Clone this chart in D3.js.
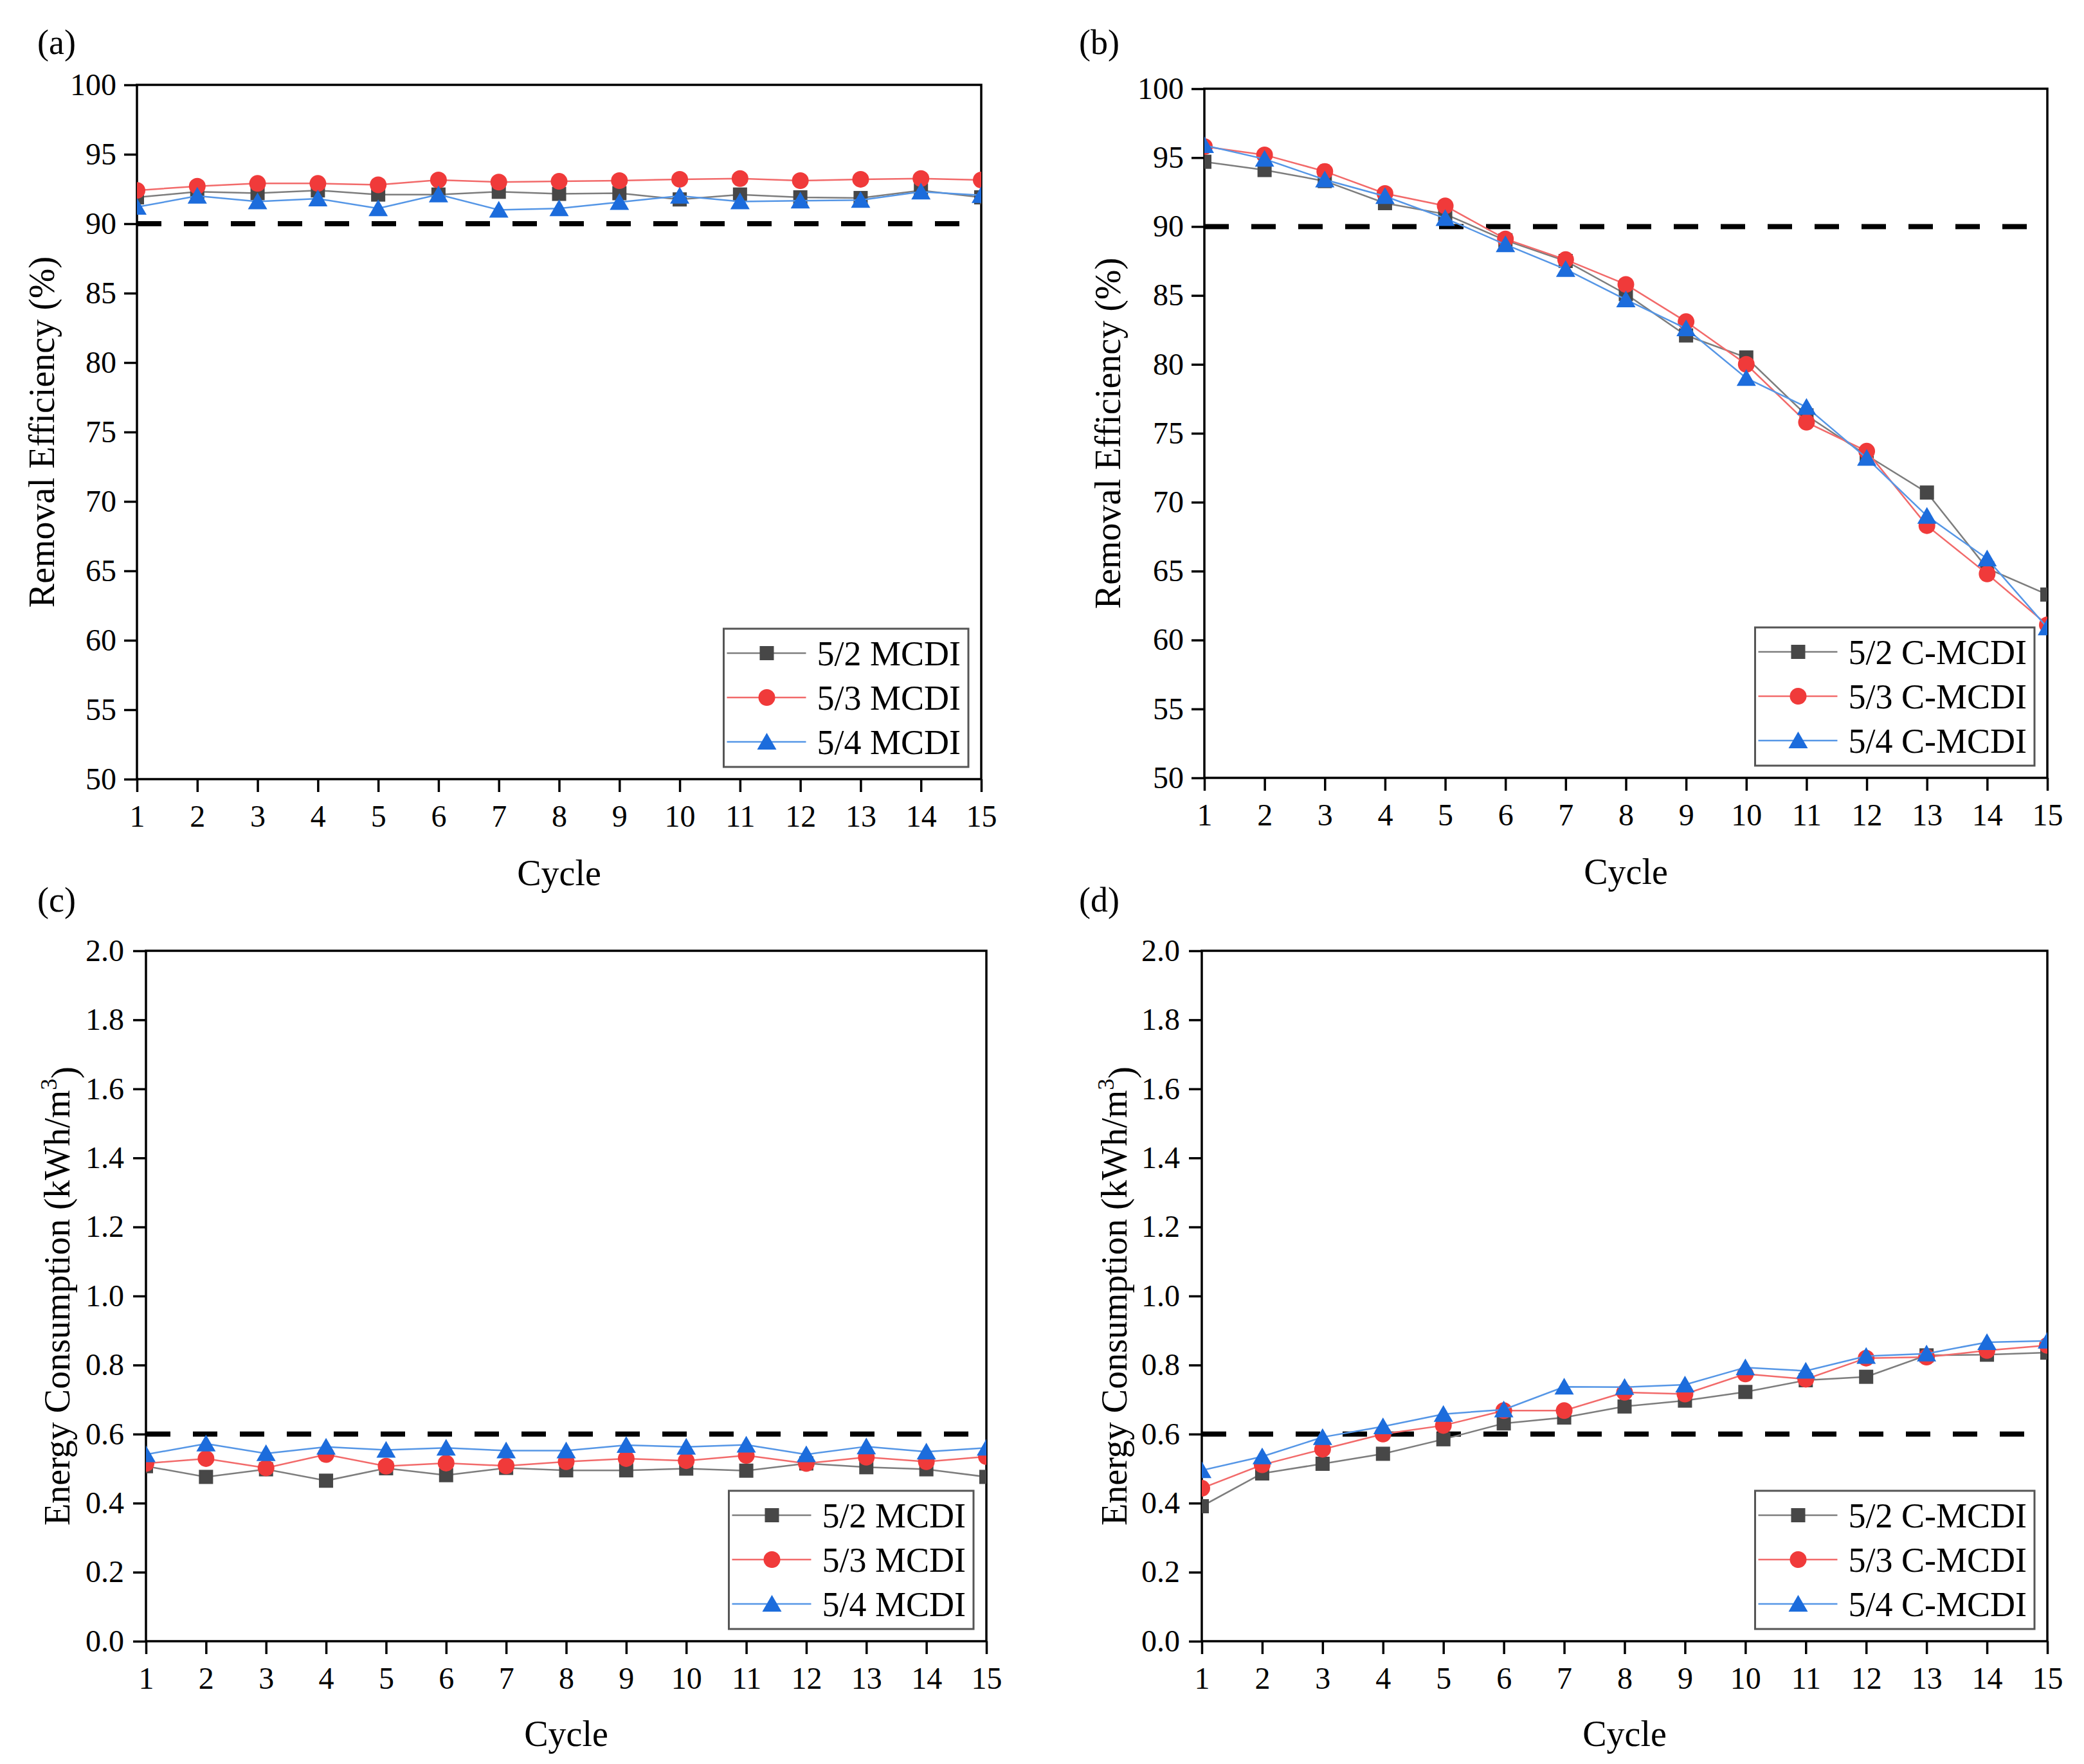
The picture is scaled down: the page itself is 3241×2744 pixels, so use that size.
<!DOCTYPE html>
<html>
<head>
<meta charset="utf-8">
<script src="https://cdn.jsdelivr.net/npm/d3@7"></script>
<style>
  body { margin: 0; background: #fff; }
  svg { display: block; font-family: "Liberation Serif", "Times New Roman", serif; }
</style>
</head>
<body>
<div id="chart"></div>
<script>
// cycle numbers on the x axis
const cycles = [1, 2, 3, 4, 5, 6, 7, 8, 9, 10, 11, 12, 13, 14, 15];

// (a) removal efficiency, MCDI (%)
const effMCDI52 = [91.9, 92.3, 92.2, 92.4, 92.1, 92.1, 92.3, 92.15, 92.2, 91.75, 92.1, 91.9, 91.85, 92.4, 91.9];
const effMCDI53 = [92.4, 92.7, 92.9, 92.9, 92.8, 93.15, 93.0, 93.05, 93.1, 93.2, 93.25, 93.1, 93.2, 93.25, 93.15];
const effMCDI54 = [91.2, 92.0, 91.6, 91.8, 91.1, 92.1, 91.0, 91.1, 91.55, 92.0, 91.6, 91.65, 91.7, 92.3, 92.05];

// (b) removal efficiency, C-MCDI (%)
const effCMCDI52 = [94.7, 94.1, 93.3, 91.7, 90.9, 89.0, 87.5, 85.1, 82.1, 80.5, 76.3, 73.4, 70.7, 65.2, 63.3];
const effCMCDI53 = [95.8, 95.2, 94.0, 92.4, 91.5, 89.1, 87.6, 85.8, 83.1, 80.0, 75.8, 73.7, 68.3, 64.8, 61.1];
const effCMCDI54 = [95.9, 94.9, 93.4, 92.2, 90.6, 88.7, 86.9, 84.7, 82.6, 79.0, 76.9, 73.2, 69.0, 65.9, 60.9];

// (c) energy consumption, MCDI (kWh/m3)
const energyMCDI52 = [0.507, 0.476, 0.498, 0.465, 0.501, 0.481, 0.502, 0.495, 0.495, 0.500, 0.494, 0.515, 0.504, 0.498, 0.476];
const energyMCDI53 = [0.515, 0.529, 0.502, 0.541, 0.507, 0.516, 0.508, 0.520, 0.529, 0.523, 0.538, 0.515, 0.533, 0.520, 0.535];
const energyMCDI54 = [0.541, 0.572, 0.544, 0.563, 0.554, 0.560, 0.552, 0.552, 0.568, 0.563, 0.569, 0.541, 0.564, 0.549, 0.560];

// (d) energy consumption, C-MCDI (kWh/m3)
const energyCMCDI52 = [0.391, 0.486, 0.514, 0.543, 0.585, 0.631, 0.648, 0.680, 0.697, 0.722, 0.756, 0.766, 0.828, 0.830, 0.836];
const energyCMCDI53 = [0.443, 0.511, 0.556, 0.600, 0.625, 0.668, 0.668, 0.721, 0.716, 0.774, 0.759, 0.820, 0.823, 0.842, 0.857];
const energyCMCDI54 = [0.495, 0.535, 0.591, 0.622, 0.658, 0.671, 0.737, 0.736, 0.743, 0.793, 0.783, 0.826, 0.833, 0.866, 0.870];

// axis ticks and threshold lines
const effTicks = [50, 55, 60, 65, 70, 75, 80, 85, 90, 95, 100];
const energyTicks = [0.0, 0.2, 0.4, 0.6, 0.8, 1.0, 1.2, 1.4, 1.6, 1.8, 2.0];
const effThreshold = 90;
const energyThreshold = 0.6;

const mcdiNames = ['5/2 MCDI', '5/3 MCDI', '5/4 MCDI'];
const cmcdiNames = ['5/2 C-MCDI', '5/3 C-MCDI', '5/4 C-MCDI'];

const W = 3241, H = 2744;

// look of the three series: square / circle / triangle
const styles = [
    { shape: 'square', fill: '#474747', line: '#7d7d7d' },
    { shape: 'circle', fill: '#f03a3a', line: '#f26a6a' },
    { shape: 'triangle', fill: '#1c6cdc', line: '#5596e6' }
];

const panels = [
    { tag: '(a)', left: 213, right: 1526, top: 132, bottom: 1212, tagX: 58, tagY: 84,
      yTitleX: 84, xTitleY: 1377, kind: 'eff', series: [effMCDI52, effMCDI53, effMCDI54], names: mcdiNames },
    { tag: '(b)', left: 1873, right: 3184, top: 138, bottom: 1210, tagX: 1678, tagY: 84,
      yTitleX: 1742, xTitleY: 1375, kind: 'eff', series: [effCMCDI52, effCMCDI53, effCMCDI54], names: cmcdiNames },
    { tag: '(c)', left: 227, right: 1534, top: 1479, bottom: 2553, tagX: 58, tagY: 1418,
      yTitleX: 108, xTitleY: 2716, kind: 'energy', series: [energyMCDI52, energyMCDI53, energyMCDI54], names: mcdiNames },
    { tag: '(d)', left: 1869, right: 3184, top: 1479, bottom: 2553, tagX: 1678, tagY: 1418,
      yTitleX: 1752, xTitleY: 2716, kind: 'energy', series: [energyCMCDI52, energyCMCDI53, energyCMCDI54], names: cmcdiNames }
];

const svg = d3.select('#chart').append('svg')
    .attr('width', W)
    .attr('height', H)
    .attr('viewBox', [0, 0, W, H]);

svg.append('rect').attr('width', W).attr('height', H).attr('fill', '#fff');

function drawMarker(sel, shape, fill) {
    if (shape === 'square') {
        sel.append('rect').attr('x', -11).attr('y', -11).attr('width', 22).attr('height', 22).attr('fill', fill);
    } else if (shape === 'circle') {
        sel.append('circle').attr('r', 13).attr('fill', fill);
    } else {
        sel.append('path').attr('d', 'M0,-14L15,12L-15,12Z').attr('fill', fill);
    }
}

panels.forEach((p, pi) => {
    const isEff = p.kind === 'eff';
    const x = d3.scaleLinear().domain([1, 15]).range([p.left, p.right]);
    const y = isEff
        ? d3.scaleLinear().domain([50, 100]).range([p.bottom, p.top])
        : d3.scaleLinear().domain([0, 2]).range([p.bottom, p.top]);

    const g = svg.append('g');

    const clipId = `clip-${pi}`;
    svg.append('clipPath').attr('id', clipId)
        .append('rect')
        .attr('x', p.left).attr('y', p.top)
        .attr('width', p.right - p.left).attr('height', p.bottom - p.top);

    // axes
    const xAxis = d3.axisBottom(x).tickValues(cycles).tickFormat(d3.format('d'))
        .tickSize(20).tickSizeOuter(0).tickPadding(20);
    const yAxis = d3.axisLeft(y).tickValues(isEff ? effTicks : energyTicks)
        .tickFormat(isEff ? d3.format('d') : d3.format('.1f'))
        .tickSize(20).tickSizeOuter(0).tickPadding(isEff ? 12 : 14);

    const gx = g.append('g').attr('transform', `translate(0,${p.bottom})`).call(xAxis);
    const gy = g.append('g').attr('transform', `translate(${p.left},0)`).call(yAxis);
    [gx, gy].forEach(a => {
        a.select('.domain').remove();
        a.selectAll('.tick line').attr('stroke', '#000').attr('stroke-width', 3.5);
        a.selectAll('.tick text')
            .attr('fill', '#000')
            .style('font-size', '48px')
            .style('font-family', '"Liberation Serif", "Times New Roman", serif');
    });

    // frame
    g.append('rect')
        .attr('x', p.left).attr('y', p.top)
        .attr('width', p.right - p.left).attr('height', p.bottom - p.top)
        .attr('fill', 'none').attr('stroke', '#000').attr('stroke-width', 3.5);

    const plot = g.append('g').attr('clip-path', `url(#${clipId})`);

    // threshold dashed line
    const thr = isEff ? effThreshold : energyThreshold;
    plot.append('line')
        .attr('x1', p.left).attr('x2', p.right)
        .attr('y1', y(thr)).attr('y2', y(thr))
        .attr('stroke', '#000').attr('stroke-width', 8)
        .attr('stroke-dasharray', '38,35');

    const line = d3.line().x((d, i) => x(cycles[i])).y(d => y(d));

    p.series.forEach((vals, si) => {
        const st = styles[si];
        plot.append('path')
            .datum(vals)
            .attr('fill', 'none')
            .attr('stroke', st.line)
            .attr('stroke-width', 2.5)
            .attr('d', line);
        plot.selectAll(null)
            .data(vals)
            .join('g')
            .attr('transform', (d, i) => `translate(${x(cycles[i])},${y(d)})`)
            .each(function () { drawMarker(d3.select(this), st.shape, st.fill); });
    });

    // titles
    g.append('text')
        .attr('x', p.tagX).attr('y', p.tagY)
        .style('font-size', '54px')
        .text(p.tag);

    g.append('text')
        .attr('x', (p.left + p.right) / 2).attr('y', p.xTitleY)
        .attr('text-anchor', 'middle')
        .style('font-size', '56px')
        .text('Cycle');

    const yt = g.append('text')
        .attr('transform', `translate(${p.yTitleX},${(p.top + p.bottom) / 2}) rotate(-90)`)
        .attr('text-anchor', 'middle')
        .style('font-size', '56px');
    if (isEff) {
        yt.text('Removal Efficiency (%)');
    } else {
        yt.append('tspan').text('Energy Consumption (kWh/m');
        yt.append('tspan').attr('dy', '-0.55em').style('font-size', '36px').text('3');
        yt.append('tspan').attr('dy', '0.55em').text(')');
    }

    // legend
    const leg = g.append('g');
    const rowGap = 69;
    const texts = [];
    p.names.forEach((name, si) => {
        const st = styles[si];
        const row = leg.append('g').attr('transform', `translate(0,${38 + si * rowGap})`);
        row.append('line').attr('x1', 5).attr('x2', 128).attr('y1', 0).attr('y2', 0)
            .attr('stroke', st.line).attr('stroke-width', 2.5);
        const m = row.append('g').attr('transform', 'translate(67,0)');
        drawMarker(m, st.shape, st.fill);
        texts.push(row.append('text')
            .attr('x', 145).attr('y', 0).attr('dy', '0.35em')
            .style('font-size', '54px')
            .text(name));
    });
    const tw = d3.max(texts, t => t.node().getComputedTextLength());
    const lw = 145 + tw + 12;
    const lh = 215;
    leg.insert('rect', ':first-child')
        .attr('x', 0).attr('y', 0).attr('width', lw).attr('height', lh)
        .attr('fill', '#fff').attr('stroke', '#555').attr('stroke-width', 3);
    leg.attr('transform', `translate(${p.right - 20 - lw},${p.bottom - 19 - lh})`);
});
</script>
</body>
</html>
